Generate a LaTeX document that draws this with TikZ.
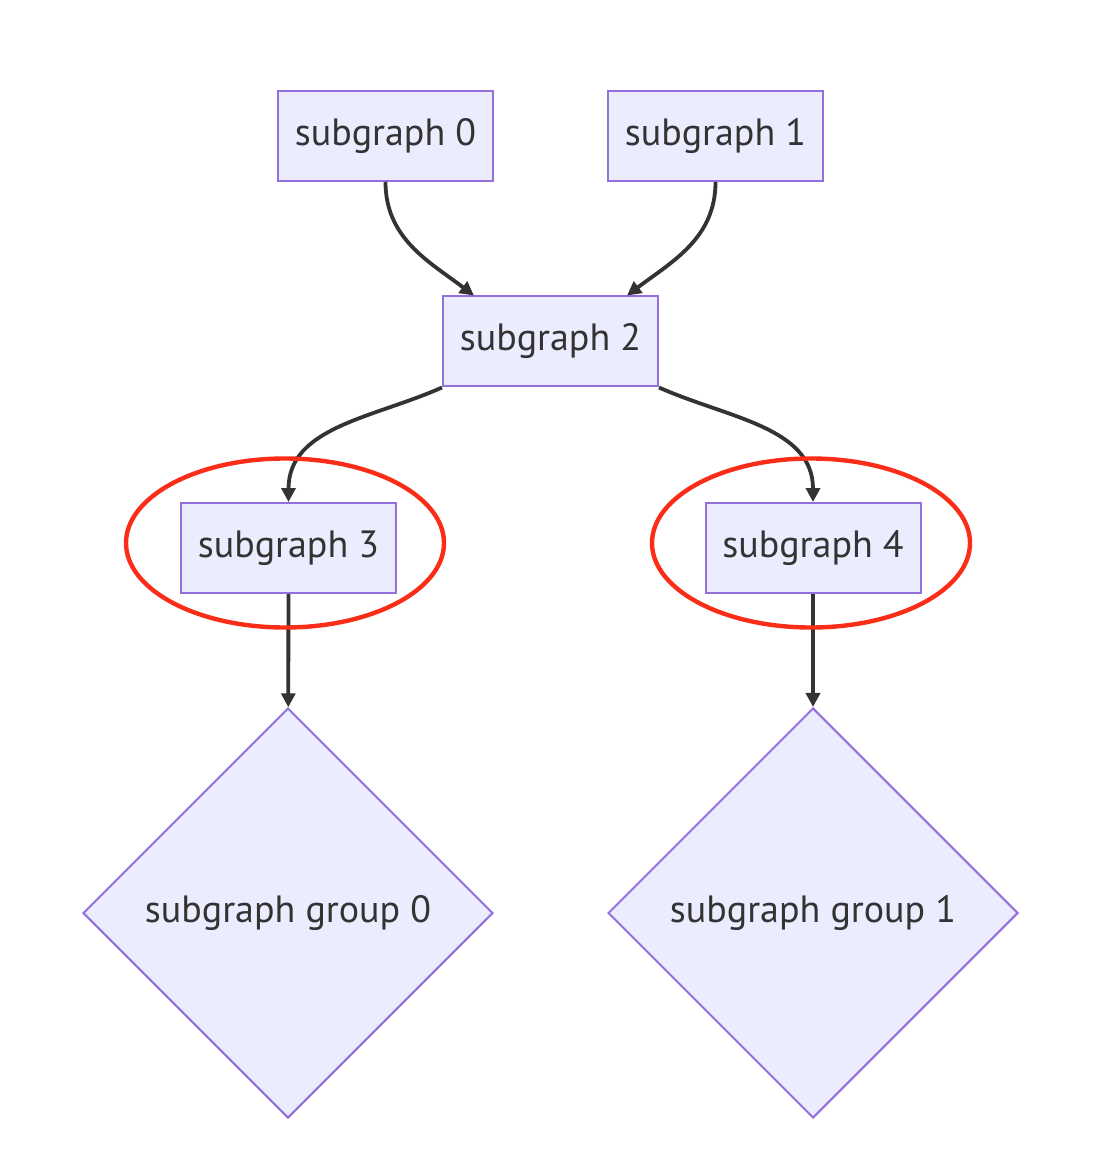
\documentclass[tikz,border=0pt]{standalone}
\usepackage{fontspec}
\setmainfont{PT Sans}
\usetikzlibrary{arrows.meta, shapes.geometric}
\definecolor{ringred}{RGB}{250,45,25}
\definecolor{boxline}{RGB}{147,112,219}
\definecolor{boxfill}{RGB}{236,236,255}

\begin{document}
\begin{tikzpicture}[x=0.5pt, y=0.5pt,
  box/.style = {draw=boxline, fill=boxfill, line width=1pt, minimum width=107.5pt, minimum height=45pt, inner sep=0pt, font=\fontsize{19}{22}\selectfont, text=black!80},
  grp/.style = {box, diamond, minimum width=205pt, minimum height=205pt, aspect=1},
  ring/.style = {draw=ringred, line width=2.2pt, ellipse, minimum width=159pt, minimum height=84.5pt, inner sep=0pt},
  link/.style = {draw=black!80, line width=1.9pt, -{Triangle[length=7pt, width=7pt]}}]
\useasboundingbox (0,0) rectangle (1116,-1154);
\node[box] (s0) at (385.5,-136) {subgraph 0};
\node[box] (s1) at (715.5,-136) {subgraph 1};
\node[box] (s2) at (550.5,-341.5) {subgraph 2};
\node[box] (s3) at (288.5,-548) {subgraph 3};
\node[box] (s4) at (813,-548) {subgraph 4};
\node[grp] (g0) at (288,-913) {subgraph group 0};
\node[grp] (g1) at (813,-913) {subgraph group 1};
\draw [link] (s0.south) to[out=-90, in=143] (s2.149);
\draw [link] (s1.south) to[out=-90, in=37] (s2.31);
\draw [link] (s2.south west) to[out=204, in=90] (s3.north);
\draw [link] (s2.south east) to[out=-24, in=90] (s4.north);
\draw [link] (s3) -- (g0);
\draw [link] (s4) -- (g1);
% red marks
\node[ring] (r3) at (285,-543) {};
\node[ring] (r4) at (811,-543) {};
\end{tikzpicture}
\end{document}
